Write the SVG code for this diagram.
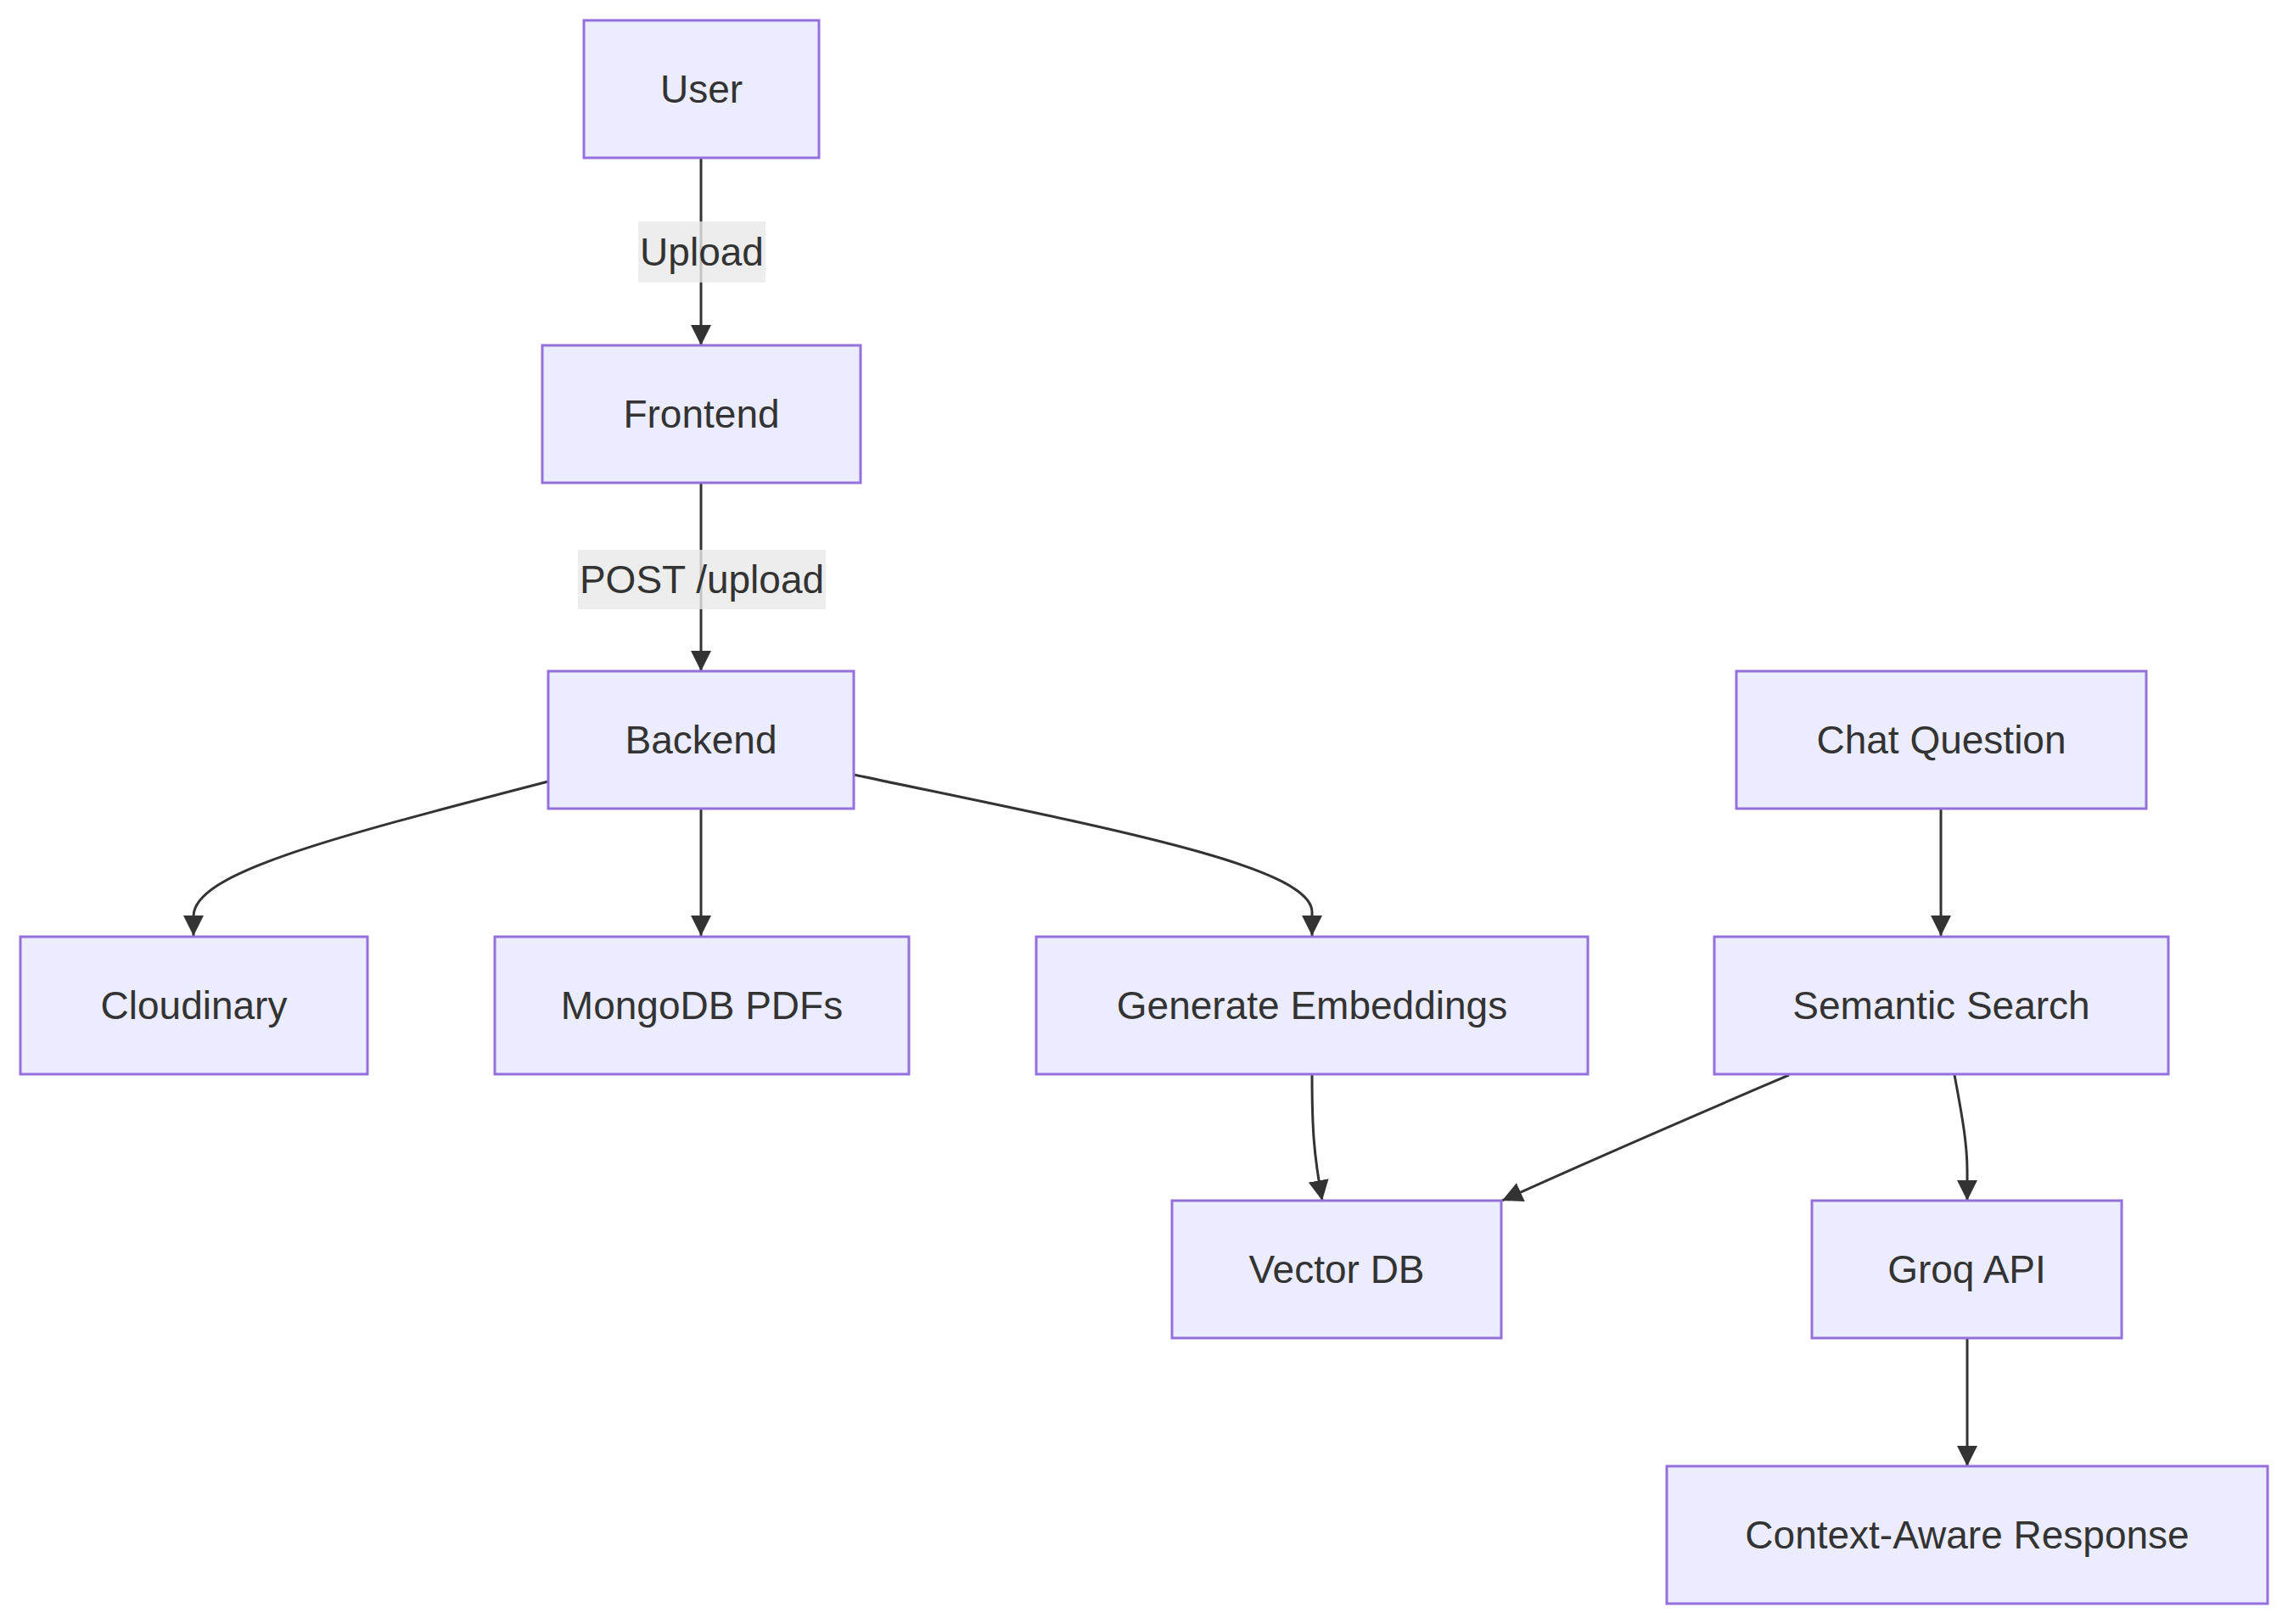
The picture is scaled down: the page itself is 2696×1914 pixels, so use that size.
<svg xmlns="http://www.w3.org/2000/svg" width="2696" height="1914" viewBox="0 0 2696 1914">
<style>
.node rect{fill:#ECECFF;stroke:#9370DB;stroke-width:3}
.node text,.lbl text{font-family:"Liberation Sans",Arial,sans-serif;font-size:46px;fill:#333333;text-anchor:middle;dominant-baseline:central}
.edge{fill:none;stroke:#333333;stroke-width:3;marker-end:url(#arrow)}
.lbl rect{fill:#e8e8e8;fill-opacity:0.8}
</style>
<defs>
<marker id="arrow" viewBox="0 0 10 10" refX="10" refY="5" markerUnits="userSpaceOnUse" markerWidth="24" markerHeight="24" orient="auto">
<path d="M0,0 L10,5 L0,10 z" fill="#333333"/>
</marker>
</defs>
<rect width="2696" height="1914" fill="#ffffff"/>
<g id="connectors">
<path class="edge" d="M826,187 L826,407"/>
<path class="edge" d="M826,569 L826,791"/>
<path class="edge" d="M646,921 C380,990 228,1030 228,1080 L228,1103"/>
<path class="edge" d="M826,953 L826,1103"/>
<path class="edge" d="M1006,913 C1300,975 1546,1020 1546,1075 L1546,1103"/>
<path class="edge" d="M2287,953 L2287,1103"/>
<path class="edge" d="M1546,1266 C1546,1330 1548,1360 1558,1415"/>
<path class="edge" d="M2108,1267 C2050,1292 1900,1356 1770,1415"/>
<path class="edge" d="M2303,1267 C2313,1320 2318,1350 2318,1380 L2318,1415"/>
<path class="edge" d="M2318,1578 L2318,1728"/>
<g class="lbl" id="label-upload"><rect x="752" y="261" width="150" height="72"/><text x="827" y="297">Upload</text></g>
<g class="lbl" id="label-post"><rect x="681" y="648" width="292" height="70"/><text x="827" y="683">POST /upload</text></g>
</g>
<g class="node" id="user"><rect x="688" y="24" width="277" height="162"/><text x="826.5" y="105">User</text></g>
<g class="node" id="frontend"><rect x="639" y="407" width="375" height="162"/><text x="826.5" y="488">Frontend</text></g>
<g class="node" id="backend"><rect x="646" y="791" width="360" height="162"/><text x="826" y="872">Backend</text></g>
<g class="node" id="chat"><rect x="2046" y="791" width="483" height="162"/><text x="2287.5" y="872">Chat Question</text></g>
<g class="node" id="cloudinary"><rect x="24" y="1104" width="409" height="162"/><text x="228.5" y="1185">Cloudinary</text></g>
<g class="node" id="mongodb"><rect x="583" y="1104" width="488" height="162"/><text x="827" y="1185">MongoDB PDFs</text></g>
<g class="node" id="embeddings"><rect x="1221" y="1104" width="650" height="162"/><text x="1546" y="1185">Generate Embeddings</text></g>
<g class="node" id="semantic"><rect x="2020" y="1104" width="535" height="162"/><text x="2287.5" y="1185">Semantic Search</text></g>
<g class="node" id="vectordb"><rect x="1381" y="1415" width="388" height="162"/><text x="1575" y="1496">Vector DB</text></g>
<g class="node" id="groq"><rect x="2135" y="1415" width="365" height="162"/><text x="2317.5" y="1496">Groq API</text></g>
<g class="node" id="response"><rect x="1964" y="1728" width="708" height="162"/><text x="2318" y="1809">Context-Aware Response</text></g>
</svg>
